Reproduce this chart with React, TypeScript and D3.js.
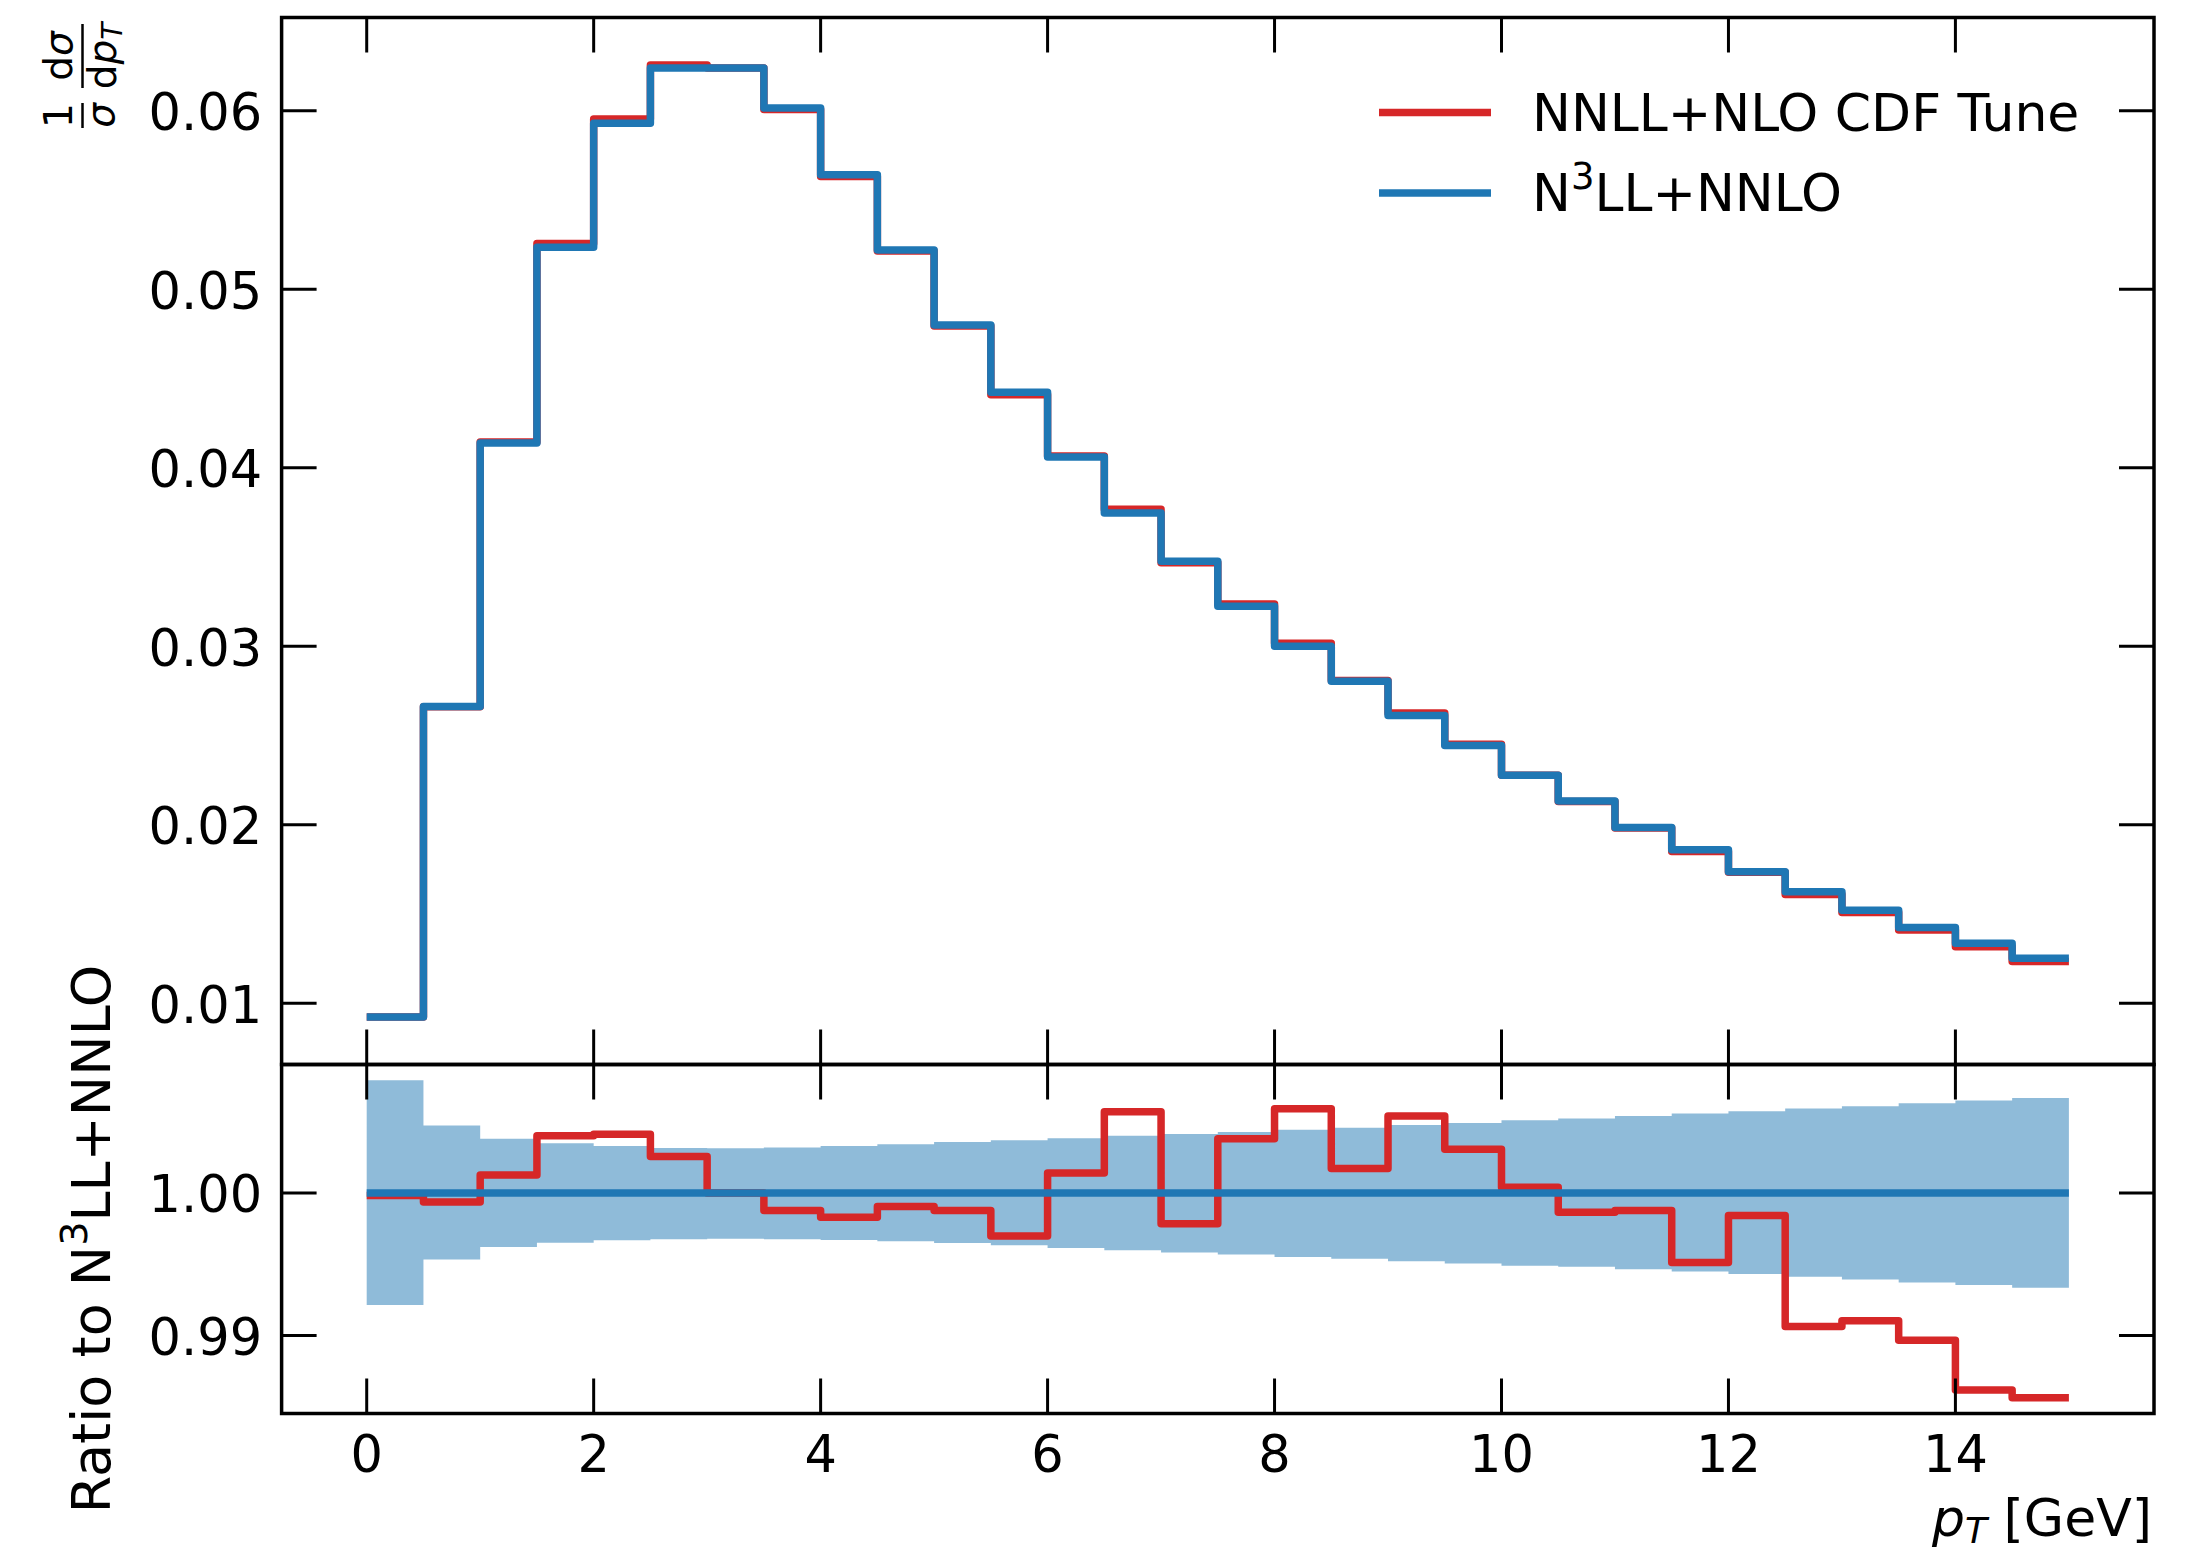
import React from 'react';
import * as d3 from 'd3';

// ---------- data ----------
const binEdges = [0, 0.5, 1, 1.5, 2, 2.5, 3, 3.5, 4, 4.5, 5, 5.5, 6, 6.5, 7, 7.5, 8, 8.5, 9, 9.5, 10, 10.5, 11, 11.5, 12, 12.5, 13, 13.5, 14, 14.5, 15];

// N3LL+NNLO normalised distribution (1/sigma dsigma/dpT)
const n3llNnlo = [0.00924, 0.02663, 0.04139, 0.05236, 0.0593, 0.0624, 0.0624, 0.06015, 0.05641, 0.0522, 0.048, 0.04423, 0.04061, 0.03747, 0.03476, 0.03224, 0.03, 0.02804, 0.02612, 0.02444, 0.02277, 0.02133, 0.01985, 0.0186, 0.01737, 0.01625, 0.01522, 0.01425, 0.01336, 0.01252];

// Ratio NNLL+NLO CDF Tune / N3LL+NNLO
const ratioCdfTune = [0.99981, 0.99937, 1.00126, 1.00402, 1.00412, 1.00256, 1.0, 0.99877, 0.9983, 0.99905, 0.99877, 0.99698, 1.0014, 1.0057, 0.99784, 1.00381, 1.00591, 1.00172, 1.0054, 1.00307, 1.0004, 0.99865, 0.99877, 0.99512, 0.99842, 0.99063, 0.99102, 0.98965, 0.98616, 0.98563];

// N3LL+NNLO uncertainty band (ratio)
const bandUpper = [1.0079, 1.00474, 1.00381, 1.00349, 1.0033, 1.00316, 1.00314, 1.00319, 1.0033, 1.00342, 1.00358, 1.0037, 1.00384, 1.00402, 1.00414, 1.00428, 1.00444, 1.00458, 1.00477, 1.00491, 1.0051, 1.00523, 1.0054, 1.00558, 1.00574, 1.00593, 1.00609, 1.0063, 1.00649, 1.00667];
const bandLower = [0.99214, 0.99533, 0.99621, 0.99651, 0.99667, 0.99674, 0.99679, 0.99674, 0.9967, 0.9966, 0.99649, 0.99633, 0.99614, 0.99598, 0.99581, 0.99567, 0.99551, 0.99537, 0.99521, 0.99505, 0.99488, 0.99481, 0.99465, 0.99449, 0.9943, 0.99412, 0.99393, 0.99372, 0.99353, 0.99335];

const nnllCdfTune = n3llNnlo.map((v, i) => v * ratioCdfTune[i]);

const xTicks = [0, 2, 4, 6, 8, 10, 12, 14];
const yTicksTop = [0.01, 0.02, 0.03, 0.04, 0.05, 0.06];
const yTicksRatio = [0.99, 1.0];
const legendLabels = ['NNLL+NLO CDF Tune', 'N3LL+NNLO'];

// ---------- style ----------
const RED = '#d62728';
const BLUE = '#1f77b4';
const FONT = 'DejaVu Sans';
const FS = 51;

const W = 2208;
const H = 1553;
const L = 281.6;
const R = 2154;
const T = 17.5;
const MID = 1064.5;
const B = 1413.5;
const TICK = 35;

function pad(ext: [number, number]): [number, number] {
  const r = ext[1] - ext[0];
  return [ext[0] - 0.05 * r, ext[1] + 0.05 * r];
}

export default function App() {
  const xs = d3.scaleLinear().domain(pad([binEdges[0], binEdges[binEdges.length - 1]])).range([L, R]);
  const topExt = d3.extent([...n3llNnlo, ...nnllCdfTune]) as [number, number];
  const yTop = d3.scaleLinear().domain(pad(topExt)).range([MID, T]);
  const ratioExt = d3.extent([...ratioCdfTune, ...bandUpper, ...bandLower, 1]) as [number, number];
  const yRat = d3.scaleLinear().domain(pad(ratioExt)).range([B, MID]);

  const stepPts = (vals: number[]) => {
    const pts: [number, number][] = vals.map((v, i) => [binEdges[i], v]);
    pts.push([binEdges[binEdges.length - 1], vals[vals.length - 1]]);
    return pts;
  };

  const lineTop = d3.line<[number, number]>().x(d => xs(d[0])).y(d => yTop(d[1])).curve(d3.curveStepAfter);
  const lineRat = d3.line<[number, number]>().x(d => xs(d[0])).y(d => yRat(d[1])).curve(d3.curveStepAfter);
  const bandPts = stepPts(bandUpper).map((p, i) => ({ x: p[0], hi: p[1], lo: i < bandLower.length ? bandLower[i] : bandLower[bandLower.length - 1] }));
  const area = d3.area<{ x: number; hi: number; lo: number }>()
    .x(d => xs(d.x)).y0(d => yRat(d.lo)).y1(d => yRat(d.hi)).curve(d3.curveStepAfter);

  const onesLine = stepPts(n3llNnlo.map(() => 1));

  const lw = 7.5;
  const tickStroke = { stroke: '#000', strokeWidth: 3 };

  return (
    <svg width={W} height={H} style={{ position: 'absolute', left: 0, top: 0, background: '#fff' }} fontFamily={FONT}>
      <rect x={0} y={0} width={W} height={H} fill="#fff" />
      {/* top panel */}
      <g>
        <path d={lineTop(stepPts(nnllCdfTune)) || ''} fill="none" stroke={RED} strokeWidth={lw} strokeLinejoin="round" strokeLinecap="butt" />
        <path d={lineTop(stepPts(n3llNnlo)) || ''} fill="none" stroke={BLUE} strokeWidth={lw} strokeLinejoin="round" strokeLinecap="butt" />
      </g>
      {/* ratio panel */}
      <g>
        <path d={area(bandPts) || ''} fill={BLUE} fillOpacity={0.5} stroke="none" />
        <path d={lineRat(stepPts(ratioCdfTune)) || ''} fill="none" stroke={RED} strokeWidth={lw} strokeLinejoin="round" strokeLinecap="butt" />
        <path d={lineRat(onesLine) || ''} fill="none" stroke={BLUE} strokeWidth={lw} strokeLinecap="butt" />
      </g>

      {/* x ticks on all horizontal spines */}
      {xTicks.map(t => {
        const x = xs(t);
        return (
          <g key={'xt' + t}>
            <line x1={x} x2={x} y1={T} y2={T + TICK} {...tickStroke} />
            <line x1={x} x2={x} y1={MID} y2={MID - TICK} {...tickStroke} />
            <line x1={x} x2={x} y1={MID} y2={MID + TICK} {...tickStroke} />
            <line x1={x} x2={x} y1={B} y2={B - TICK} {...tickStroke} />
            <text x={x} y={1472} fontSize={FS} textAnchor="middle">{t}</text>
          </g>
        );
      })}
      {/* y ticks top */}
      {yTicksTop.map(t => {
        const y = yTop(t);
        return (
          <g key={'yt' + t}>
            <line x1={L} x2={L + TICK} y1={y} y2={y} {...tickStroke} />
            <line x1={R} x2={R - TICK} y1={y} y2={y} {...tickStroke} />
            <text x={L - 19.5} y={y + 19.5} fontSize={FS} textAnchor="end">{t.toFixed(2)}</text>
          </g>
        );
      })}
      {/* y ticks ratio */}
      {yTicksRatio.map(t => {
        const y = yRat(t);
        return (
          <g key={'yr' + t}>
            <line x1={L} x2={L + TICK} y1={y} y2={y} {...tickStroke} />
            <line x1={R} x2={R - TICK} y1={y} y2={y} {...tickStroke} />
            <text x={L - 19.5} y={y + 19.5} fontSize={FS} textAnchor="end">{t.toFixed(2)}</text>
          </g>
        );
      })}

      {/* spines */}
      <rect x={L} y={T} width={R - L} height={MID - T} fill="none" stroke="#000" strokeWidth={3.5} />
      <rect x={L} y={MID} width={R - L} height={B - MID} fill="none" stroke="#000" strokeWidth={3.5} />

      {/* legend */}
      <line x1={1379} x2={1491} y1={112.5} y2={112.5} stroke={RED} strokeWidth={lw} />
      <text x={1532} y={131} fontSize={52}>{legendLabels[0]}</text>
      <line x1={1379} x2={1491} y1={193} y2={193} stroke={BLUE} strokeWidth={lw} />
      <text x={1532} y={211} fontSize={52}>
        N<tspan fontSize={37} dy={-22}>3</tspan><tspan dy={22}>LL+NNLO</tspan>
      </text>

      {/* top y label: 1/sigma dsigma/dpT */}
      <g transform="translate(82.5,128) rotate(-90)" fontSize={39}>
        <line x1={0} x2={25} y1={0} y2={0} stroke="#000" strokeWidth={2.5} />
        <text x={12.5} y={-11} textAnchor="middle">1</text>
        <text x={12.5} y={31} textAnchor="middle" fontStyle="italic">σ</text>
        <line x1={40} x2={104} y1={0} y2={0} stroke="#000" strokeWidth={2.5} />
        <text x={72} y={-11} textAnchor="middle">d<tspan fontStyle="italic">σ</tspan></text>
        <text x={72} y={33} textAnchor="middle">d<tspan fontStyle="italic">p</tspan><tspan fontStyle="italic" fontSize={28} dy={6}>T</tspan></text>
      </g>

      {/* ratio y label */}
      <g transform={`translate(110,${(MID + B) / 2}) rotate(-90)`}>
        <text x={0} y={0} fontSize={54} textAnchor="middle">
          Ratio to N<tspan fontSize={38} dy={-23}>3</tspan><tspan dy={23}>LL+NNLO</tspan>
        </text>
      </g>

      {/* x label */}
      <text x={2152} y={1536} fontSize={52} textAnchor="end">
        <tspan fontStyle="italic">p</tspan><tspan fontStyle="italic" fontSize={36} dy={7}>T</tspan><tspan dy={-7}> [GeV]</tspan>
      </text>
    </svg>
  );
}
